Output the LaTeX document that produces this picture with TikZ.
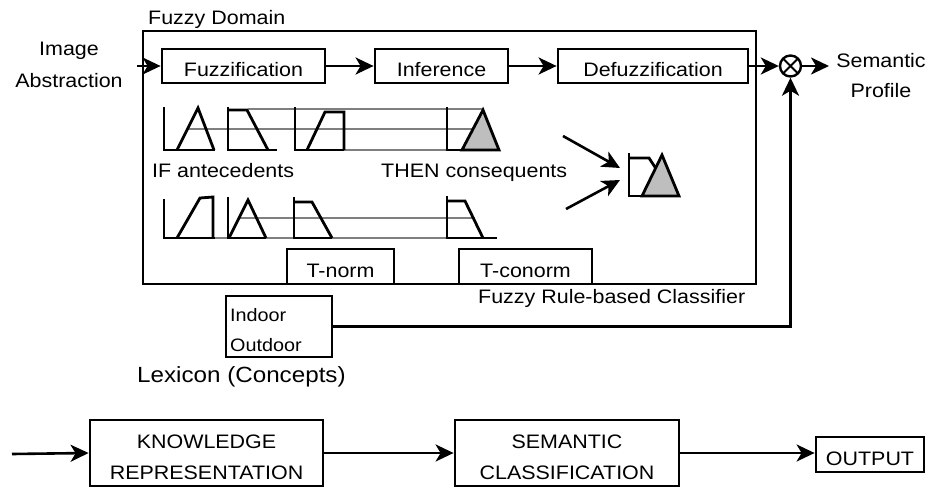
\documentclass[tikz,border=0pt]{standalone}
\usepackage{fontspec}
\setmainfont{Liberation Sans}[FakeStretch=1.1]
\usetikzlibrary{arrows.meta}
\newcommand\lblsz{\fontsize{19.5}{30.5}\selectfont}
\newcommand\lexsz{\fontsize{22}{26}\selectfont}
\newcommand\itemsz{\fontsize{18}{22}\selectfont}
\definecolor{mfline}{HTML}{7F7F7F}
\definecolor{mffill}{HTML}{BEBEBE}

\begin{document}
\begin{tikzpicture}[x=1pt,y=-1pt,
  every node/.style={font=\lblsz, inner sep=0pt},
  blk/.style={draw, line width=2.8pt, minimum height=34pt, text height=21pt, text depth=0pt},
  bigblk/.style={draw, line width=2.8pt, minimum height=66pt},
  arr/.style={line width=2.6pt, -{Stealth[length=18pt,width=17pt,inset=5pt]}},
  mf/.style={line width=2.8pt, line join=miter, line cap=butt},
  guide/.style={line width=2.4pt, draw=mfline},
  txt/.style={anchor=base},
  txtw/.style={anchor=base west}]
\useasboundingbox (0,0) rectangle (931,487);

% fuzzy domain frame
\node[draw, line width=2.8pt, minimum width=613pt, minimum height=253pt] (frame) at (449.5,157.5) {};
\node[txtw] (fdlabel) at (148,25) {Fuzzy Domain};

% input label
\node[txt] (img1) at (69,56) {Image};
\node[txt] (img2) at (69,87) {Abstraction};
\coordinate (imgin) at (137,66);

% processing chain
\node[blk, minimum width=163pt] (fuzz) at (243.5,66) {Fuzzification};
\node[blk, minimum width=133pt] (infer) at (441.5,66) {Inference};
\node[blk, minimum width=190pt] (defuzz) at (653,66) {Defuzzification};

\node[draw, circle, line width=2.4pt, minimum size=21pt,
  path picture={\draw[line width=2pt]
    (path picture bounding box.north west) -- (path picture bounding box.south east)
    (path picture bounding box.north east) -- (path picture bounding box.south west);}]
  (ot) at (790.5,66) {};
\coordinate (semout) at (829,66);
\node[txt] (sem1) at (881,67) {Semantic};
\node[txt] (sem2) at (881,97) {Profile};

\draw[arr] (imgin) -- (fuzz.west);
\draw[arr] (fuzz) -- (infer);
\draw[arr] (infer) -- (defuzz);
\draw[arr] (defuzz) -- (ot);
\draw[arr] (ot) -- (semout);

% rule base: guide lines
\draw[guide] (248,109) -- (482,109);
\draw[guide] (187,129) -- (490,129);
\draw[guide] (344,150) -- (499,150);
\draw[guide] (240,218) -- (475,218);
\draw[guide] (213,238) -- (447,238);

% rule base: antecedent membership functions, row 1
\draw[mf] (164,107) -- (164,150) -- (215,150);
\draw[mf] (177,150) -- (198,108) -- (214,150);
\draw[mf] (228,107) -- (228,150) -- (277,150);
\draw[mf] (228,110) -- (247,110) -- (268,150);
\draw[mf] (295,107) -- (295,150) -- (344,150);
\draw[mf] (307,150) -- (325,112) -- (344,112) -- (344,150);
% consequent, row 1
\draw[mf] (447,107) -- (447,150) -- (462,150);
\draw[mf, fill=mffill] (462,150) -- (483,110) -- (499,150) -- cycle;

% rule base: row 2
\draw[mf] (164,199) -- (164,238) -- (215,238);
\draw[mf] (177,238) -- (200,198) -- (213,197) -- (213,238);
\draw[mf] (228,197) -- (228,238) -- (266,238);
\draw[mf] (229,238) -- (248,200) -- (266,238);
\draw[mf] (294,197) -- (294,238) -- (332,238);
\draw[mf] (294,202) -- (312,202) -- (332,238);
\draw[mf] (447,196) -- (447,238) -- (497,238);
\draw[mf] (447,201) -- (465,201) -- (483,238);

\node[txtw] (ifant) at (152,177) {IF antecedents};
\node[txtw] (thencon) at (381,177) {THEN consequents};

% aggregation
\coordinate (ag1s) at (563,136);
\coordinate (ag1e) at (620,168);
\coordinate (ag2s) at (566,209);
\coordinate (ag2e) at (620,180);
\draw[arr] (ag1s) -- (ag1e);
\draw[arr] (ag2s) -- (ag2e);
\draw[mf] (629,153) -- (629,196) -- (679,196);
\draw[mf] (629,158) -- (649,158) -- (674,196);
\draw[mf, fill=mffill] (642,196) -- (662,155) -- (679,196) -- cycle;

% operators
\node[blk, minimum width=107pt, minimum height=35pt] (tnorm) at (340.5,266.5) {T-norm};
\node[blk, minimum width=133pt, minimum height=35pt] (tconorm) at (525.5,266.5) {T-conorm};
\node[txtw] (frbc) at (478,303) {Fuzzy Rule-based Classifier};

% lexicon
\node[draw, line width=2.8pt, minimum width=106pt, minimum height=61pt] (lex) at (279,326.5) {};
\node[txtw, font=\itemsz] (indoor) at (230,321) {Indoor};
\node[txtw, font=\itemsz] (outdoor) at (230,351) {Outdoor};
\node[txtw, font=\lexsz] (lexlabel) at (137,382) {Lexicon (Concepts)};
\draw[arr] (lex.east) -| (ot.south);

% overall pipeline
\coordinate (kin) at (12,454);
\node[bigblk, minimum width=233pt] (kr) at (206.5,453) {};
\node[txt] (kr1) at (206.5,448.5) {KNOWLEDGE};
\node[txt] (kr2) at (206.5,479) {REPRESENTATION};
\node[bigblk, minimum width=224pt] (sc) at (567,453) {};
\node[txt] (sc1) at (567,448.5) {SEMANTIC};
\node[txt] (sc2) at (567,479) {CLASSIFICATION};
\node[blk, minimum width=108pt, minimum height=35pt] (outbox) at (870,454.5) {OUTPUT};

\draw[arr] (kin) -- (kr.west);
\draw[arr] (kr) -- (sc);
\draw[arr] (sc.east) -- (sc.east -| outbox.west);
\end{tikzpicture}
\end{document}
